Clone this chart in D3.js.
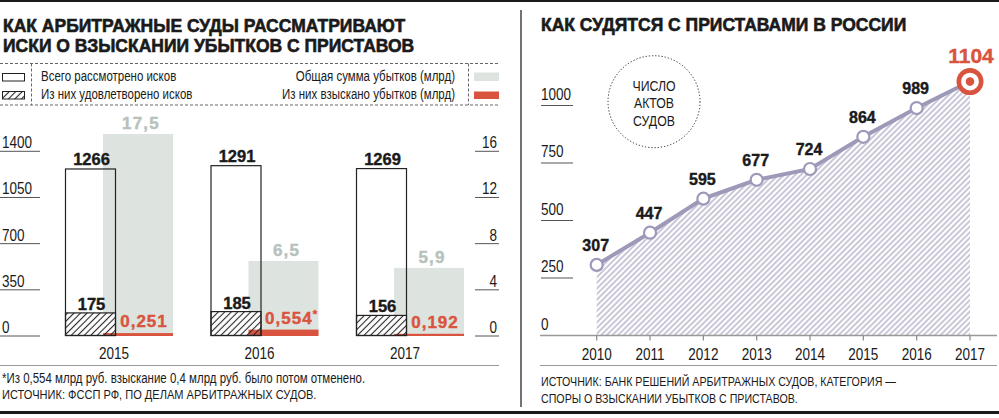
<!DOCTYPE html>
<html>
<head>
<meta charset="utf-8">
<script src="https://cdn.jsdelivr.net/npm/d3@7"></script>
<style>
  html, body { margin: 0; padding: 0; background: #fff; }
  svg { display: block; }
  .narrow { font-family: "Liberation Sans", Arial, sans-serif; }
  .bold { font-family: "Liberation Sans", Arial, sans-serif; font-weight: bold; }
</style>
</head>
<body>
<script>
// ---------- DATA ----------
// Left panel
const years = [2015, 2016, 2017];
const claimsTotal = [1266, 1291, 1269];
const claimsSatisfied = [175, 185, 156];
const lossesTotal = [17.5, 6.5, 5.9];
const lossesRecovered = [0.251, 0.554, 0.192];
const recoveredNotes = ["", "*", ""];
const leftTicks = [0, 350, 700, 1050, 1400];
const rightTicks = [0, 4, 8, 12, 16];
const leftTitle = ["КАК АРБИТРАЖНЫЕ СУДЫ РАССМАТРИВАЮТ", "ИСКИ О ВЗЫСКАНИИ УБЫТКОВ С ПРИСТАВОВ"];
const legendLeft = ["Всего рассмотрено исков", "Из них удовлетворено исков"];
const legendRight = ["Общая сумма убытков (млрд)", "Из них взыскано убытков (млрд)"];
const leftNotes = ["*Из 0,554 млрд руб. взыскание 0,4 млрд руб. было потом отменено.",
                   "ИСТОЧНИК: ФССП РФ, ПО ДЕЛАМ АРБИТРАЖНЫХ СУДОВ."];
// Right panel
const lineYears = [2010, 2011, 2012, 2013, 2014, 2015, 2016, 2017];
const courtActs = [307, 447, 595, 677, 724, 864, 989, 1104];
const lineTicks = [0, 250, 500, 750, 1000];
const rightTitle = "КАК СУДЯТСЯ С ПРИСТАВАМИ В РОССИИ";
const bubbleText = ["ЧИСЛО", "АКТОВ", "СУДОВ"];
const rightNotes = ["ИСТОЧНИК: БАНК РЕШЕНИЙ АРБИТРАЖНЫХ СУДОВ, КАТЕГОРИЯ —",
                    "СПОРЫ О ВЗЫСКАНИИ УБЫТКОВ С ПРИСТАВОВ."];

// ---------- STYLE ----------
const RED = "#d9543e", GRAYBAR = "#dde3df", GRAYLABEL = "#b6c2bc", LAV = "#9d99b8", INK = "#1a1a1a";
const W = 999, H = 418, NARROW = 0.82;
const ru = d3.formatLocale({decimal: ",", thousands: "\u00a0", grouping: [3], currency: ["", ""]});
const f1 = ru.format(".1f"), f3 = ru.format(".3f");

const svg = d3.select("body").append("svg").attr("width", W).attr("height", H);
const defs = svg.append("defs");
function hatch(id, color, gap, sw) {
  const p = defs.append("pattern").attr("id", id).attr("patternUnits", "userSpaceOnUse")
    .attr("width", gap).attr("height", 20).attr("patternTransform", "rotate(45)");
  p.append("line").attr("x1", gap / 2).attr("x2", gap / 2).attr("y1", 0).attr("y2", 20)
    .attr("stroke", color).attr("stroke-width", sw);
}
hatch("hBlack", "#222", 4.6, 1.1);
hatch("hLav", LAV, 4, 1.1);

// condensed text helper (Arial-Narrow-like look via horizontal scaling)
function nt(parent, x, y, txt, size, anchor) {
  return parent.append("text").attr("class", "narrow")
    .attr("transform", `translate(${x},${y}) scale(${NARROW},1)`)
    .attr("text-anchor", anchor || "start").attr("font-size", size).attr("fill", INK).text(txt);
}

// frame rules
svg.append("line").attr("x1", 0).attr("x2", W).attr("y1", 1).attr("y2", 1).attr("stroke", INK).attr("stroke-width", 2);
svg.append("line").attr("x1", 0).attr("x2", W).attr("y1", 412.5).attr("y2", 412.5).attr("stroke", INK).attr("stroke-width", 3);
svg.append("line").attr("x1", 521).attr("x2", 521).attr("y1", 10).attr("y2", 407).attr("stroke", "#444").attr("stroke-width", 1.5);

// ================= LEFT PANEL =================
const L = svg.append("g");
L.selectAll(".lt").data(leftTitle).join("text").attr("class", "bold")
  .attr("x", 3).attr("y", (d, i) => 32 + i * 20).attr("font-size", 17.5)
  .attr("fill", INK).attr("stroke", INK).attr("stroke-width", 0.6).text(d => d);

// legend box (dashed)
const dash = {stroke: "#666", "stroke-width": 1, "stroke-dasharray": "3,2"};
function applyAttrs(sel, o) { Object.entries(o).forEach(([k, v]) => sel.attr(k, v)); return sel; }
[63.5, 105].forEach(y => applyAttrs(L.append("line").attr("x1", 0).attr("x2", 500).attr("y1", y).attr("y2", y), dash));
[31.5, 468.5].forEach(x => applyAttrs(L.append("line").attr("x1", x).attr("x2", x).attr("y1", 63.5).attr("y2", 105), dash));

L.append("rect").attr("x", 2.5).attr("y", 73.5).attr("width", 22).attr("height", 7.5).attr("fill", "#fff").attr("stroke", "#222");
L.append("rect").attr("x", 2.5).attr("y", 91.5).attr("width", 22).attr("height", 7.5).attr("fill", "url(#hBlack)").attr("stroke", "#222");
legendLeft.forEach((d, i) => nt(L, 41, 81 + i * 18, d, 14));
legendRight.forEach((d, i) => nt(L, 455, 81 + i * 18, d, 14, "end"));
L.append("rect").attr("x", 474).attr("y", 72.5).attr("width", 25).attr("height", 8.5).attr("fill", GRAYBAR);
L.append("rect").attr("x", 474).attr("y", 91.5).attr("width", 25).attr("height", 7.5).attr("fill", RED);

// scales
const yL = d3.scaleLinear().domain([0, 1400]).range([336, 151.3]);
const yR = d3.scaleLinear().domain([0, 16]).range([336, 151.3]);
const xB = d3.scaleBand().domain(years).range([65, 65 + 145.5 * years.length]).paddingInner(0).paddingOuter(0);
const WB = 51, GO = 38, GW = 70;

// axes (custom: label above short rule)
leftTicks.forEach(t => {
  L.append("line").attr("x1", 0).attr("x2", 40).attr("y1", yL(t)).attr("y2", yL(t)).attr("stroke", "#555").attr("stroke-width", 1);
  nt(L, 2, yL(t) - 3, t, 16.5);
});
rightTicks.forEach(t => {
  L.append("line").attr("x1", 475).attr("x2", 499).attr("y1", yR(t)).attr("y2", yR(t)).attr("stroke", "#555").attr("stroke-width", 1);
  nt(L, 497, yR(t) - 3, t, 16.5, "end");
});

const rows = years.map((y, i) => ({year: y, total: claimsTotal[i], sat: claimsSatisfied[i], loss: lossesTotal[i], rec: lossesRecovered[i], note: recoveredNotes[i]}));
const g = L.selectAll(".grp").data(rows).join("g");
g.append("rect").attr("x", d => xB(d.year)).attr("y", d => yL(d.total)).attr("width", WB)
  .attr("height", d => yL(0) - yL(d.total)).attr("fill", "#fff");
g.append("rect").attr("x", d => xB(d.year) + GO).attr("y", d => yR(d.loss)).attr("width", GW)
  .attr("height", d => yR(0) - yR(d.loss)).attr("fill", GRAYBAR);
g.append("rect").attr("x", d => xB(d.year)).attr("y", d => yL(d.sat)).attr("width", WB)
  .attr("height", d => yL(0) - yL(d.sat)).attr("fill", "#fff");
g.append("rect").attr("x", d => xB(d.year) + GO).attr("y", d => yR(d.rec)).attr("width", GW)
  .attr("height", d => yR(0) - yR(d.rec)).attr("fill", RED);
g.append("rect").attr("x", d => xB(d.year) + 0.5).attr("y", d => yL(d.sat)).attr("width", WB - 1)
  .attr("height", d => yL(0) - yL(d.sat) - 0.5).attr("fill", "url(#hBlack)").attr("stroke", "#222").attr("stroke-width", 1.2);
g.append("rect").attr("x", d => xB(d.year) + 0.5).attr("y", d => yL(d.total)).attr("width", WB - 1)
  .attr("height", d => yL(0) - yL(d.total) - 0.5).attr("fill", "none").attr("stroke", "#222").attr("stroke-width", 1.2);
g.append("text").attr("class", "bold").attr("text-anchor", "middle").attr("font-size", 16.5)
  .attr("x", d => xB(d.year) + WB / 2 + 1).attr("y", d => yL(d.total) - 4).attr("fill", INK)
  .attr("stroke", INK).attr("stroke-width", 0.4).text(d => d.total);
g.append("text").attr("class", "bold").attr("text-anchor", "middle").attr("font-size", 16.5)
  .attr("x", d => xB(d.year) + WB / 2 + 1).attr("y", d => yL(d.sat) - 3).attr("fill", INK)
  .attr("stroke", INK).attr("stroke-width", 0.4).text(d => d.sat);
g.append("text").attr("class", "bold").attr("text-anchor", "middle").attr("font-size", 17).attr("letter-spacing", 1.2)
  .attr("x", d => xB(d.year) + GO + GW / 2 + 3).attr("y", d => yR(d.loss) - 5).attr("fill", GRAYLABEL)
  .attr("stroke", GRAYLABEL).attr("stroke-width", 0.4).text(d => f1(d.loss));
const rl = g.append("text").attr("class", "bold").attr("text-anchor", "middle").attr("font-size", 17).attr("letter-spacing", 1)
  .attr("x", d => xB(d.year) + GO + GW / 2 + (d.note ? 8 : 6)).attr("y", d => yR(d.rec) - 6).attr("fill", RED)
  .attr("stroke", RED).attr("stroke-width", 0.4);
rl.append("tspan").text(d => f3(d.rec));
rl.append("tspan").attr("font-size", 11).attr("dy", -6).text(d => d.note);
g.each(function (d) { nt(d3.select(this), xB(d.year) + 49, 359, d.year, 16.5, "middle"); });

L.append("line").attr("x1", 0).attr("x2", 499).attr("y1", 365.5).attr("y2", 365.5).attr("stroke", "#999").attr("stroke-width", 1.2);
nt(L, 2, 383, leftNotes[0], 14);
nt(L, 2, 399, leftNotes[1], 13.5);

// ================= RIGHT PANEL =================
const R = svg.append("g");
R.append("text").attr("class", "bold").attr("x", 541).attr("y", 31).attr("font-size", 17.5)
  .attr("fill", INK).attr("stroke", INK).attr("stroke-width", 0.6).text(rightTitle);

const x2 = d3.scalePoint().domain(lineYears).range([596.7, 970]);
const y2 = d3.scaleLinear().domain([0, 1000]).range([335.5, 105.5]);

lineTicks.forEach(t => {
  if (t > 0) R.append("line").attr("x1", 541).attr("x2", 573).attr("y1", y2(t)).attr("y2", y2(t)).attr("stroke", "#555").attr("stroke-width", 1);
  nt(R, 541, y2(t) - 6, t, 16.5);
});

const pts = lineYears.map((y, i) => ({year: y, v: courtActs[i]}));
R.append("path").datum(pts)
  .attr("d", d3.area().x(d => x2(d.year)).y0(y2(0)).y1(d => y2(d.v)))
  .attr("fill", "url(#hLav)");
R.append("line").attr("x1", 540).attr("x2", 997).attr("y1", y2(0)).attr("y2", y2(0)).attr("stroke", "#999").attr("stroke-width", 1.5);
R.selectAll(".xt").data(lineYears).join("line").attr("x1", d => x2(d)).attr("x2", d => x2(d))
  .attr("y1", y2(0)).attr("y2", y2(0) + 5).attr("stroke", "#888").attr("stroke-width", 1.2);
lineYears.forEach(d => nt(R, x2(d), 360, d, 16.5, "middle"));
R.append("line").attr("x1", 540).attr("x2", 997).attr("y1", 365.5).attr("y2", 365.5).attr("stroke", "#999").attr("stroke-width", 1.2);

R.append("path").datum(pts)
  .attr("d", d3.line().x(d => x2(d.year)).y(d => y2(d.v)))
  .attr("fill", "none").attr("stroke", LAV).attr("stroke-width", 4);

const last = pts[pts.length - 1];
const body = pts.slice(0, -1);
R.selectAll(".pt").data(body).join("circle").attr("cx", d => x2(d.year)).attr("cy", d => y2(d.v))
  .attr("r", 6).attr("fill", "#fff").attr("stroke", LAV).attr("stroke-width", 2.2);
R.selectAll(".pl").data(body).join("text").attr("class", "bold").attr("text-anchor", "middle")
  .attr("x", d => x2(d.year) - 1).attr("y", d => y2(d.v) - 14).attr("font-size", 16).attr("fill", INK)
  .attr("stroke", INK).attr("stroke-width", 0.4).text(d => d.v);

R.append("circle").attr("cx", x2(last.year)).attr("cy", y2(last.v)).attr("r", 11.2)
  .attr("fill", "#fff").attr("stroke", RED).attr("stroke-width", 4.6);
R.append("circle").attr("cx", x2(last.year)).attr("cy", y2(last.v)).attr("r", 4.3).attr("fill", RED);
R.append("text").attr("class", "bold").attr("text-anchor", "middle").attr("font-size", 21)
  .attr("x", x2(last.year) + 1).attr("y", y2(last.v) - 19).attr("fill", RED)
  .attr("stroke", RED).attr("stroke-width", 0.4).text(last.v);

// annotation bubble
const bx = 654, by = 101.7;
R.append("circle").attr("cx", bx).attr("cy", by).attr("r", 46).attr("fill", "none")
  .attr("stroke", "#222").attr("stroke-width", 1).attr("stroke-dasharray", "1.2,2");
bubbleText.forEach((d, i) => nt(R, bx, by - 11 + i * 17.7, d, 15, "middle"));

rightNotes.forEach((d, i) => nt(R, 541, 386 + i * 17, d, 13));
</script>
</body>
</html>
